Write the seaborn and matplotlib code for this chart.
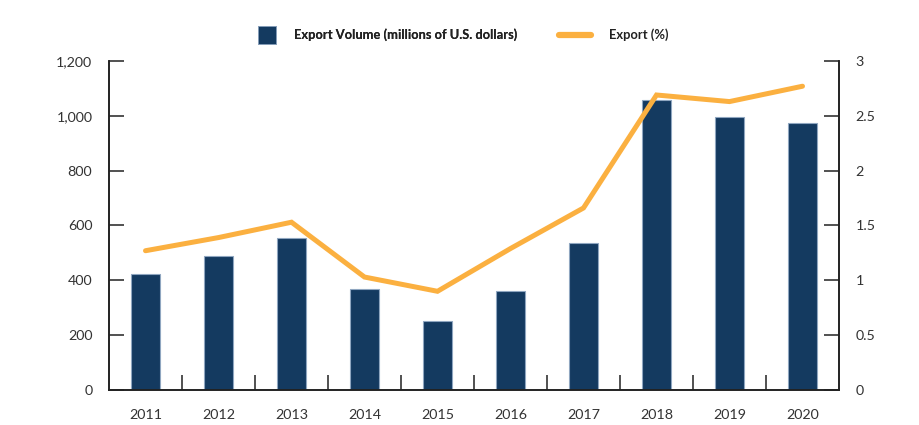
import matplotlib
matplotlib.use("Agg")
import matplotlib.pyplot as plt
import seaborn as sns
import pandas as pd
from matplotlib.lines import Line2D
from matplotlib.ticker import FuncFormatter, FixedLocator

years = ["2011", "2012", "2013", "2014", "2015", "2016", "2017", "2018", "2019", "2020"]
export_volume = [423, 490, 553, 368, 252, 361, 536, 1058, 994, 973]
export_pct = [1.27, 1.39, 1.53, 1.03, 0.90, 1.29, 1.66, 2.69, 2.63, 2.77]

bar_label = "Export Volume (millions of U.S. dollars)"
line_label = "Export (%)"
left_ticks = [0, 200, 400, 600, 800, 1000, 1200]
right_ticks = [0, 0.5, 1, 1.5, 2, 2.5, 3]

sns.set_theme(style="white")
plt.rcParams["font.family"] = ["Lato", "DejaVu Sans"]

BAR = "#143a60"
LINE = "#fbb040"
TXT = "#333333"
SPINE = "#222222"

df = pd.DataFrame({"year": years, "volume": export_volume, "pct": export_pct})

fig = plt.figure(figsize=(9.2, 4.25), dpi=100)
ax = fig.add_axes([109 / 920, 35 / 425, 730 / 920, 329 / 425])
sns.barplot(data=df, x="year", y="volume", color=BAR, width=0.4, ax=ax,
            edgecolor="#8fa6c0", linewidth=0.8, saturation=1)
ax.set_xlim(-0.5, 9.5)
ax.set_ylim(0, 1200)
ax.set_xlabel("")
ax.set_ylabel("")

ax2 = ax.twinx()
sns.lineplot(x=list(range(len(years))), y=export_pct, ax=ax2, color=LINE,
             linewidth=3.6, solid_capstyle="round", solid_joinstyle="miter")
ax2.set_ylim(0, 3)
ax2.set_xlim(-0.5, 9.5)

for a in (ax, ax2):
    a.spines["top"].set_visible(False)
    for s in ("left", "right", "bottom"):
        a.spines[s].set_color(SPINE)
        a.spines[s].set_linewidth(1.2)
    a.grid(False)

ax.yaxis.set_major_locator(FixedLocator(left_ticks))
ax.yaxis.set_major_formatter(FuncFormatter(lambda v, p: f"{int(v):,}"))
ax.tick_params(axis="y", direction="in", length=11, width=1.1, color=SPINE,
               labelsize=10.3, labelcolor=TXT, pad=12, left=True)
ax2.yaxis.set_major_locator(FixedLocator(right_ticks))
ax2.yaxis.set_major_formatter(FuncFormatter(lambda v, p: f"{v:g}"))
ax2.tick_params(axis="y", direction="in", length=11, width=1.1, color=SPINE,
                labelsize=10.3, labelcolor=TXT, pad=12, right=True)

ax.tick_params(axis="x", which="major", length=0, labelsize=10.3, labelcolor=TXT, pad=14)
ax.xaxis.set_minor_locator(FixedLocator([i + 0.5 for i in range(len(years) - 1)]))
ax.tick_params(axis="x", which="minor", direction="in", length=11, width=1.1,
               color=SPINE, bottom=True)
ax2.tick_params(axis="x", bottom=False, top=False, labelbottom=False)

h1 = Line2D([], [], marker="s", markersize=13, linestyle="none",
            markerfacecolor=BAR, markeredgecolor="#8fa6c0", markeredgewidth=0.6)
h2 = Line2D([], [], color=LINE, linewidth=4.5, solid_capstyle="round")
leg1 = fig.legend([h1], [bar_label], loc="center left",
                  bbox_to_anchor=(254 / 920, 1 - 35 / 425), frameon=False,
                  handlelength=2.0, handletextpad=1.1, borderpad=0, borderaxespad=0,
                  prop={"weight": "bold", "size": 9.3})
fig.add_artist(leg1)
leg2 = fig.legend([h2], [line_label], loc="center left",
                  bbox_to_anchor=(559 / 920, 1 - 35 / 425), frameon=False,
                  handlelength=2.5, handletextpad=1.4, borderpad=0, borderaxespad=0,
                  prop={"weight": "bold", "size": 9.3})
for leg in (leg1, leg2):
    for t in leg.get_texts():
        t.set_color("#222222")

fig.savefig("out.png", dpi=100)
